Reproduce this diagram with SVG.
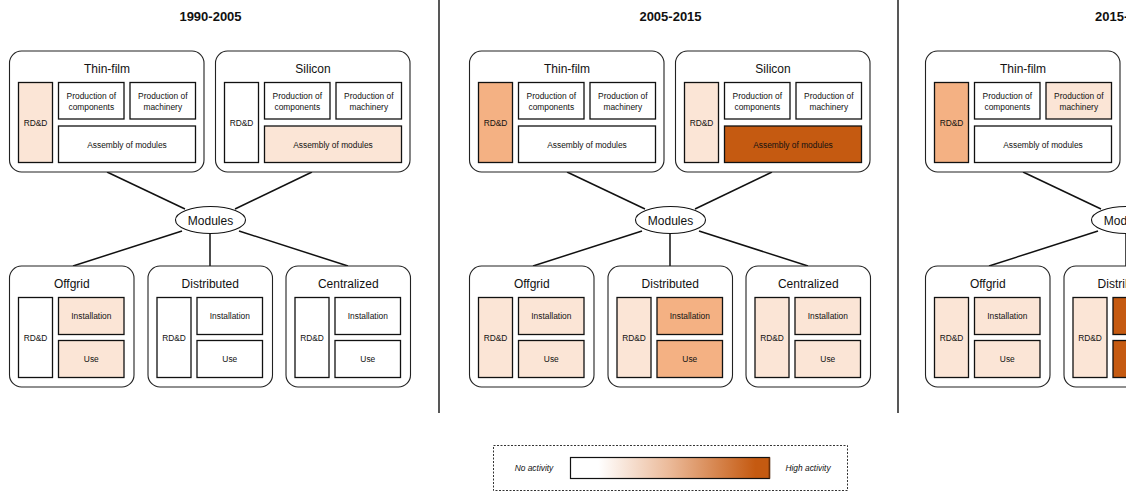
<svg xmlns="http://www.w3.org/2000/svg" width="1126" height="492" viewBox="0 0 1126 492">
<style>
.bg{fill:#fff}
.box{fill:#fff;stroke:#222;stroke-width:1.1}
.cell{stroke:#111;stroke-width:1.3}
.w{fill:#fff}
.l{fill:#FBE5D6}
.m{fill:#F4B183}
.d{fill:#C55A11}
.t{font-family:"Liberation Sans",Arial,sans-serif;font-size:12px;fill:#111;text-anchor:middle}
.s{font-family:"Liberation Sans",Arial,sans-serif;font-size:8.4px;fill:#111;text-anchor:middle}
.h{font-family:"Liberation Sans",Arial,sans-serif;font-size:13px;font-weight:bold;fill:#111;text-anchor:middle}
.lg{font-family:"Liberation Sans",Arial,sans-serif;font-size:8.4px;font-style:italic;fill:#111;text-anchor:middle}
.c{stroke:#111;stroke-width:1.5;fill:none}
.div{stroke:#111;stroke-width:1.4}
.ell{fill:#fff;stroke:#111;stroke-width:1.1}
</style>
<defs>
<linearGradient id="grad" x1="0" y1="0" x2="1" y2="0">
<stop offset="0" stop-color="#fff"/>
<stop offset="0.14" stop-color="#fff"/>
<stop offset="0.5" stop-color="#EBB998"/>
<stop offset="0.93" stop-color="#C55A11"/>
<stop offset="1" stop-color="#C55A11"/>
</linearGradient>
</defs>
<rect class="bg" width="1126" height="492"/>

<g id="dividers">
<line class="div" x1="439" y1="0" x2="439" y2="413"/>
<line class="div" x1="898" y1="0" x2="898" y2="413"/>
</g>

<g id="connectors">
<g id="conn-p1">
<line class="c" x1="107" y1="172" x2="185" y2="209"/>
<line class="c" x1="312" y1="172" x2="235" y2="209"/>
<line class="c" x1="182" y1="231" x2="73" y2="266"/>
<line class="c" x1="210" y1="233" x2="210" y2="266"/>
<line class="c" x1="239" y1="231" x2="348" y2="266"/>
</g>
<g id="conn-p2" transform="translate(460,0)">
<line class="c" x1="107" y1="172" x2="185" y2="209"/>
<line class="c" x1="312" y1="172" x2="235" y2="209"/>
<line class="c" x1="182" y1="231" x2="73" y2="266"/>
<line class="c" x1="210" y1="233" x2="210" y2="266"/>
<line class="c" x1="239" y1="231" x2="348" y2="266"/>
</g>
<g id="conn-p3" transform="translate(916,0)">
<line class="c" x1="107" y1="172" x2="185" y2="209"/>
<line class="c" x1="182" y1="231" x2="73" y2="266"/>
<line class="c" x1="210" y1="233" x2="210" y2="266"/>
</g>
</g>

<!-- Panel 1 -->
<text class="h" x="210.5" y="21">1990-2005</text>
<g id="p1-thinfilm">
<rect class="box" x="9.5" y="51" width="194.5" height="121" rx="12"/>
<text class="t" x="107" y="73">Thin-film</text>
<rect class="cell l" x="18.5" y="82.5" width="34" height="80"/>
<text class="s" x="35.5" y="125.5">RD&amp;D</text>
<rect class="cell w" x="58.5" y="82.5" width="65.5" height="36.5"/>
<text class="s" x="91.3" y="99">Production of</text><text class="s" x="91.3" y="110">components</text>
<rect class="cell w" x="130" y="82.5" width="65.5" height="36.5"/>
<text class="s" x="162.8" y="99">Production of</text><text class="s" x="162.8" y="110">machinery</text>
<rect class="cell w" x="58.5" y="126" width="137" height="36.5"/>
<text class="s" x="127" y="147.5">Assembly of modules</text>
</g>
<g id="p1-silicon">
<rect class="box" x="215.5" y="51" width="194.5" height="121" rx="12"/>
<text class="t" x="313" y="73">Silicon</text>
<rect class="cell w" x="224.5" y="82.5" width="34" height="80"/>
<text class="s" x="241.5" y="125.5">RD&amp;D</text>
<rect class="cell w" x="264.5" y="82.5" width="65.5" height="36.5"/>
<text class="s" x="297.3" y="99">Production of</text><text class="s" x="297.3" y="110">components</text>
<rect class="cell w" x="336" y="82.5" width="65.5" height="36.5"/>
<text class="s" x="368.8" y="99">Production of</text><text class="s" x="368.8" y="110">machinery</text>
<rect class="cell l" x="264.5" y="126" width="137" height="36.5"/>
<text class="s" x="333" y="147.5">Assembly of modules</text>
</g>
<g id="p1-modules">
<ellipse class="ell" cx="210.5" cy="220" rx="35" ry="13.5"/>
<text class="t" x="210.5" y="224.5">Modules</text>
</g>
<g id="p1-offgrid">
<rect class="box" x="9.5" y="266" width="124.5" height="121" rx="12"/>
<text class="t" x="71.8" y="288">Offgrid</text>
<rect class="cell w" x="18.5" y="297.5" width="34" height="80"/>
<text class="s" x="35.5" y="340.5">RD&amp;D</text>
<rect class="cell l" x="58.5" y="297.5" width="65.5" height="37"/>
<text class="s" x="91.3" y="319">Installation</text>
<rect class="cell l" x="58.5" y="340.5" width="65.5" height="37"/>
<text class="s" x="91.3" y="362">Use</text>
</g>
<g id="p1-distributed">
<rect class="box" x="148" y="266" width="124.5" height="121" rx="12"/>
<text class="t" x="210.3" y="288">Distributed</text>
<rect class="cell w" x="157" y="297.5" width="34" height="80"/>
<text class="s" x="174" y="340.5">RD&amp;D</text>
<rect class="cell w" x="197" y="297.5" width="65.5" height="37"/>
<text class="s" x="229.8" y="319">Installation</text>
<rect class="cell w" x="197" y="340.5" width="65.5" height="37"/>
<text class="s" x="229.8" y="362">Use</text>
</g>
<g id="p1-centralized">
<rect class="box" x="286" y="266" width="124.5" height="121" rx="12"/>
<text class="t" x="348.3" y="288">Centralized</text>
<rect class="cell w" x="295" y="297.5" width="34" height="80"/>
<text class="s" x="312" y="340.5">RD&amp;D</text>
<rect class="cell w" x="335" y="297.5" width="65.5" height="37"/>
<text class="s" x="367.8" y="319">Installation</text>
<rect class="cell w" x="335" y="340.5" width="65.5" height="37"/>
<text class="s" x="367.8" y="362">Use</text>
</g>

<!-- Panel 2 -->
<g transform="translate(460,0)">
<text class="h" x="210.5" y="21">2005-2015</text>
<g id="p2-thinfilm">
<rect class="box" x="9.5" y="51" width="194.5" height="121" rx="12"/>
<text class="t" x="107" y="73">Thin-film</text>
<rect class="cell m" x="18.5" y="82.5" width="34" height="80"/>
<text class="s" x="35.5" y="125.5">RD&amp;D</text>
<rect class="cell w" x="58.5" y="82.5" width="65.5" height="36.5"/>
<text class="s" x="91.3" y="99">Production of</text><text class="s" x="91.3" y="110">components</text>
<rect class="cell w" x="130" y="82.5" width="65.5" height="36.5"/>
<text class="s" x="162.8" y="99">Production of</text><text class="s" x="162.8" y="110">machinery</text>
<rect class="cell w" x="58.5" y="126" width="137" height="36.5"/>
<text class="s" x="127" y="147.5">Assembly of modules</text>
</g>
<g id="p2-silicon">
<rect class="box" x="215.5" y="51" width="194.5" height="121" rx="12"/>
<text class="t" x="313" y="73">Silicon</text>
<rect class="cell l" x="224.5" y="82.5" width="34" height="80"/>
<text class="s" x="241.5" y="125.5">RD&amp;D</text>
<rect class="cell w" x="264.5" y="82.5" width="65.5" height="36.5"/>
<text class="s" x="297.3" y="99">Production of</text><text class="s" x="297.3" y="110">components</text>
<rect class="cell w" x="336" y="82.5" width="65.5" height="36.5"/>
<text class="s" x="368.8" y="99">Production of</text><text class="s" x="368.8" y="110">machinery</text>
<rect class="cell d" x="264.5" y="126" width="137" height="36.5"/>
<text class="s" x="333" y="147.5">Assembly of modules</text>
</g>
<g id="p2-modules">
<ellipse class="ell" cx="210.5" cy="220" rx="35" ry="13.5"/>
<text class="t" x="210.5" y="224.5">Modules</text>
</g>
<g id="p2-offgrid">
<rect class="box" x="9.5" y="266" width="124.5" height="121" rx="12"/>
<text class="t" x="71.8" y="288">Offgrid</text>
<rect class="cell l" x="18.5" y="297.5" width="34" height="80"/>
<text class="s" x="35.5" y="340.5">RD&amp;D</text>
<rect class="cell l" x="58.5" y="297.5" width="65.5" height="37"/>
<text class="s" x="91.3" y="319">Installation</text>
<rect class="cell l" x="58.5" y="340.5" width="65.5" height="37"/>
<text class="s" x="91.3" y="362">Use</text>
</g>
<g id="p2-distributed">
<rect class="box" x="148" y="266" width="124.5" height="121" rx="12"/>
<text class="t" x="210.3" y="288">Distributed</text>
<rect class="cell l" x="157" y="297.5" width="34" height="80"/>
<text class="s" x="174" y="340.5">RD&amp;D</text>
<rect class="cell m" x="197" y="297.5" width="65.5" height="37"/>
<text class="s" x="229.8" y="319">Installation</text>
<rect class="cell m" x="197" y="340.5" width="65.5" height="37"/>
<text class="s" x="229.8" y="362">Use</text>
</g>
<g id="p2-centralized">
<rect class="box" x="286" y="266" width="124.5" height="121" rx="12"/>
<text class="t" x="348.3" y="288">Centralized</text>
<rect class="cell l" x="295" y="297.5" width="34" height="80"/>
<text class="s" x="312" y="340.5">RD&amp;D</text>
<rect class="cell l" x="335" y="297.5" width="65.5" height="37"/>
<text class="s" x="367.8" y="319">Installation</text>
<rect class="cell l" x="335" y="340.5" width="65.5" height="37"/>
<text class="s" x="367.8" y="362">Use</text>
</g>
</g>

<!-- Panel 3 (cut off at right edge) -->
<g transform="translate(916,0)">
<text class="h" x="179" y="21" style="text-anchor:start">2015-</text>
<g id="p3-thinfilm">
<rect class="box" x="9.5" y="51" width="194.5" height="121" rx="12"/>
<text class="t" x="107" y="73">Thin-film</text>
<rect class="cell m" x="18.5" y="82.5" width="34" height="80"/>
<text class="s" x="35.5" y="125.5">RD&amp;D</text>
<rect class="cell w" x="58.5" y="82.5" width="65.5" height="36.5"/>
<text class="s" x="91.3" y="99">Production of</text><text class="s" x="91.3" y="110">components</text>
<rect class="cell l" x="130" y="82.5" width="65.5" height="36.5"/>
<text class="s" x="162.8" y="99">Production of</text><text class="s" x="162.8" y="110">machinery</text>
<rect class="cell w" x="58.5" y="126" width="137" height="36.5"/>
<text class="s" x="127" y="147.5">Assembly of modules</text>
</g>
<g id="p3-modules">
<ellipse class="ell" cx="210.5" cy="220" rx="35" ry="13.5"/>
<text class="t" x="210.5" y="224.5">Modules</text>
</g>
<g id="p3-offgrid">
<rect class="box" x="9.5" y="266" width="124.5" height="121" rx="12"/>
<text class="t" x="71.8" y="288">Offgrid</text>
<rect class="cell l" x="18.5" y="297.5" width="34" height="80"/>
<text class="s" x="35.5" y="340.5">RD&amp;D</text>
<rect class="cell l" x="58.5" y="297.5" width="65.5" height="37"/>
<text class="s" x="91.3" y="319">Installation</text>
<rect class="cell l" x="58.5" y="340.5" width="65.5" height="37"/>
<text class="s" x="91.3" y="362">Use</text>
</g>
<g id="p3-distributed">
<rect class="box" x="148" y="266" width="124.5" height="121" rx="12"/>
<text class="t" x="210.3" y="288">Distributed</text>
<rect class="cell l" x="157" y="297.5" width="34" height="80"/>
<text class="s" x="174" y="340.5">RD&amp;D</text>
<rect class="cell d" x="197" y="297.5" width="65.5" height="37"/>
<rect class="cell d" x="197" y="340.5" width="65.5" height="37"/>
</g>
</g>

<!-- Legend -->
<g id="legend">
<rect x="493.5" y="445.5" width="354" height="45" fill="#fff" stroke="#333" stroke-width="1" stroke-dasharray="2,1.5"/>
<rect x="570.5" y="457.5" width="199" height="21" fill="url(#grad)" stroke="#111" stroke-width="1.2"/>
<line x1="769.5" y1="457.5" x2="769.5" y2="478.5" stroke="#6b2f08" stroke-width="1.4"/>
<text class="lg" x="534" y="470.5">No activity</text>
<text class="lg" x="808" y="470.5">High activity</text>
</g>
</svg>
